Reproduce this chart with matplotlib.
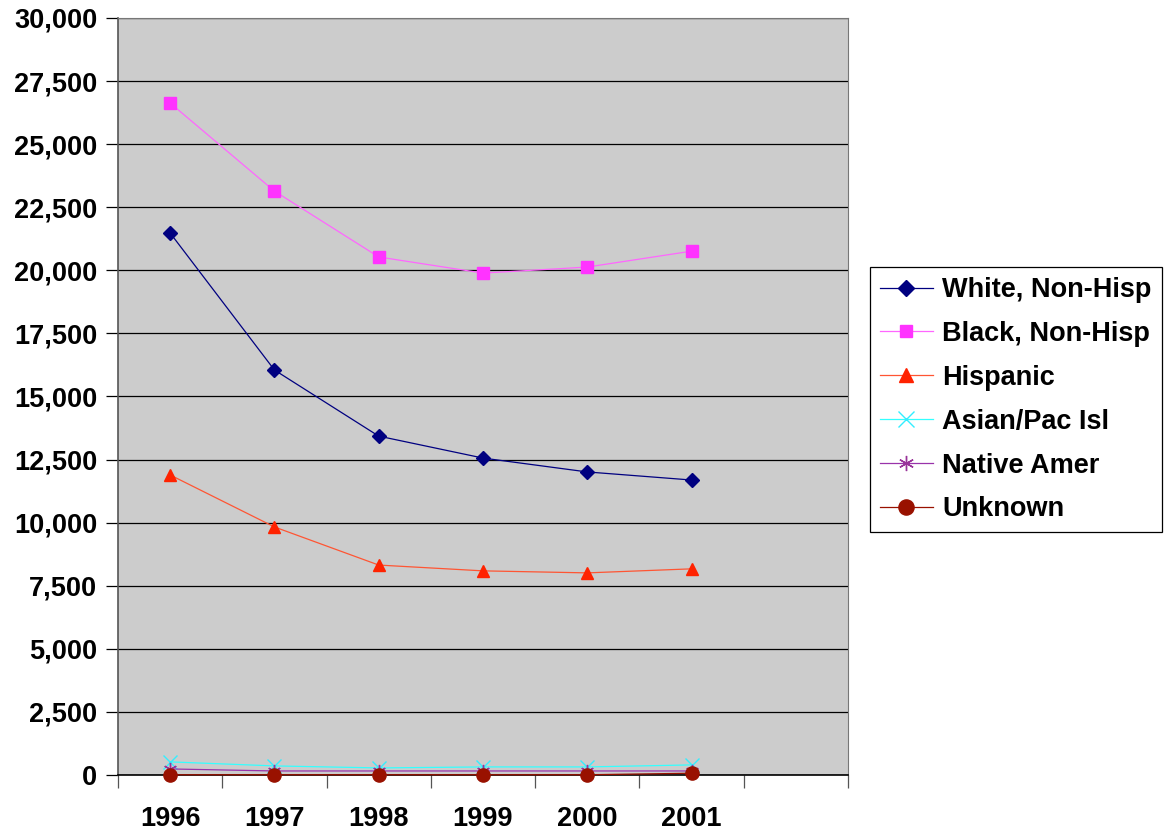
import matplotlib
matplotlib.use("Agg")
import matplotlib.pyplot as plt
from matplotlib.ticker import FuncFormatter, MultipleLocator, FixedLocator

plt.rcParams['font.family'] = ['Liberation Sans', 'DejaVu Sans']

years = ["1996", "1997", "1998", "1999", "2000", "2001"]
white = [21480, 16050, 13430, 12560, 12010, 11690]
black = [26630, 23140, 20530, 19890, 20130, 20760]
hispanic = [11890, 9830, 8320, 8090, 8010, 8170]
asian = [520, 360, 280, 320, 320, 400]
native = [240, 160, 160, 160, 160, 160]
unknown = [10, 10, 10, 10, 10, 70]

series = [
    ("White, Non-Hisp", white, "#000080", "#000080", "D", 7.5),
    ("Black, Non-Hisp", black, "#FF66FF", "#FF33FF", "s", 8),
    ("Hispanic", hispanic, "#FF5533", "#FF2200", "^", 8.5),
    ("Asian/Pac Isl", asian, "#33FFFF", "#33EEFF", "x", 9.5),
    ("Native Amer", native, "#9933AA", "#993399", (6, 2, 0), 9.5),
    ("Unknown", unknown, "#991100", "#991100", "o", 9.5),
]

fig = plt.figure(figsize=(11.71, 8.30), dpi=100)
ax = fig.add_axes([118 / 1171, 55 / 830, 730 / 1171, 757 / 830])
ax.set_facecolor("#CCCCCC")

x = list(range(len(years)))
for name, vals, lc, mc, mk, ms in series:
    ax.plot(x, vals, color=lc, lw=0.9, marker=mk, markersize=ms,
            markerfacecolor=mc, markeredgecolor=mc, markeredgewidth=1.0,
            label=name, zorder=3, clip_on=False)

ax.set_xlim(-0.5, 6.5)
ax.set_ylim(0, 30000)
ax.yaxis.set_major_locator(MultipleLocator(2500))
ax.yaxis.set_major_formatter(FuncFormatter(lambda v, p: f"{int(v):,}"))
ax.yaxis.grid(True, color="#000000", lw=0.9)
ax.set_axisbelow(True)

ax.xaxis.set_major_locator(FixedLocator([i - 0.5 for i in range(8)]))
ax.xaxis.set_major_formatter(FuncFormatter(lambda v, p: ""))
ax.xaxis.set_minor_locator(FixedLocator(x))
ax.set_xticklabels(years, minor=True)
ax.tick_params(axis="x", which="minor", length=0, pad=22, labelsize=19.5)
ax.tick_params(axis="x", which="major", length=9, width=0.9, color="#555555", direction="out")
ax.tick_params(axis="y", length=9, width=0.9, color="#000000", direction="out", labelsize=19.5, pad=6)
for lab in ax.get_xticklabels(minor=True) + ax.get_yticklabels():
    lab.set_fontweight("bold")

ax.spines["left"].set_color("#555555")
ax.spines["bottom"].set_color("#000000")
ax.spines["left"].set_linewidth(1.2)
ax.spines["bottom"].set_linewidth(1.2)
for side in ["top", "right"]:
    ax.spines[side].set_color("#777777")
    ax.spines[side].set_linewidth(0.8)

leg = fig.legend(loc="upper left", bbox_to_anchor=(870 / 1171, 1 - 267 / 830),
                 frameon=True, fancybox=False, edgecolor="#000000", framealpha=1,
                 prop={"weight": "bold", "size": 19.5}, handlelength=1.95,
                 labelspacing=0.66, borderpad=0.37, handletextpad=0.35,
                 borderaxespad=0, markerscale=1.15)
leg.get_frame().set_linewidth(0.9)

fig.savefig("out.png", dpi=100)
